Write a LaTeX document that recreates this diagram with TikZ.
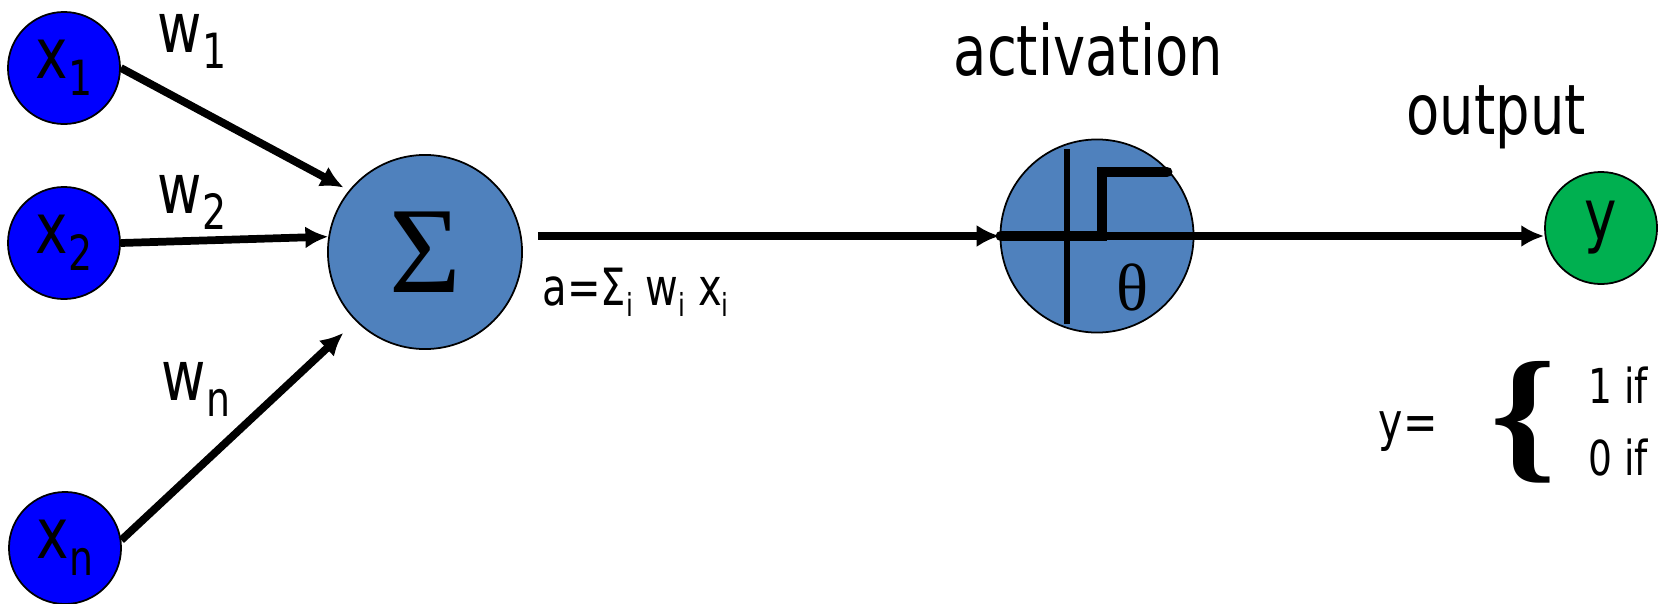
\documentclass[tikz,border=0pt]{standalone}
\usepackage{fontspec}
\usepackage{graphicx}
\setmainfont{DejaVu Sans}[FakeStretch=0.78]
\newfontfamily\seriffont{Liberation Serif}
\usetikzlibrary{arrows.meta,positioning,calc}

\definecolor{inblue}{RGB}{0,0,255}
\definecolor{cellblue}{RGB}{79,129,189}
\definecolor{outgreen}{RGB}{0,176,80}

\newcommand{\lowidx}[1]{\raisebox{-4.7pt}{\fontsize{13.8}{13.8}\selectfont #1}}
\newcommand{\smallidx}[1]{\raisebox{-3.4pt}{\fontsize{9}{9}\selectfont #1}}

\begin{document}
\begin{tikzpicture}[
        x=0.01cm, y=-0.01cm,
        innode/.style={circle, draw, line width=0.5pt, fill=inblue, minimum size=1.12cm, inner sep=0, font=\fontsize{20}{20}\selectfont},
        cell/.style={circle, draw, line width=0.5pt, fill=cellblue, minimum size=1.94cm, inner sep=0},
        outnode/.style={innode, fill=outgreen},
        lbl/.style={inner sep=0, anchor=base west, font=\fontsize{19.8}{20}\selectfont},
        arr/.style={draw, line width=2.2pt, -{Latex[length=6.5pt,width=6.3pt]}},
        axisline/.style={line width=1.7pt},
        stepline/.style={line width=3.1pt, line cap=round}
    ]
        \useasboundingbox (0,0) rectangle (1664,603);

        % Inputs
        \node[innode] (x1) at (64,68) {x\lowidx{1}};
        \node[innode] (x2) at (64,243) {x\lowidx{2}};
        \node[innode] (xn) at (65,548) {x\lowidx{n}};

        % Summation, activation, output
        \node[cell, font=\seriffont\fontsize{35}{35}\selectfont] (sum) at (425,252) {Σ};
        \node[cell, minimum size=1.93cm] (act) at (1097,236) {};
        \node[outnode] (yout) at (1601,228) {y};

        % Weights
        \node[lbl] (w1) at (157,52) {w\lowidx{1}};
        \node[lbl] (w2) at (157,213) {w\lowidx{2}};
        \node[lbl] (wn) at (161,400) {w\lowidx{n}};

        % Arrows
        \draw[arr, shorten >=0.06cm] (x1.east) -- (sum.141);
        \draw[arr] (x2.east) -- (sum.171);
        \draw[arr, shorten >=0.17cm] (xn.8) -- (sum.225);
        \draw[arr, shorten <=0.15cm] (sum.east |- act.west) -- (act.west);
        \draw[arr] (act.center) -- (act.center -| yout.west);

        % Step function inside the activation
        \begin{scope}[shift={(act.center)}]
            \draw[axisline] (-30,-87) -- (-30,88);
            \draw[stepline] (-96,0) -- (5,0) -- (5,-64) -- (70,-64);
            \node[font=\seriffont\fontsize{19}{19}\selectfont, inner sep=0] (theta) at (35,51) {θ};
        \end{scope}

        % Labels
        \node[lbl] (actlbl) at (953,75) {activation};
        \node[lbl] (outlbl) at (1406,134) {output};
        \node[lbl, font=\fontsize{14.6}{15}\selectfont] (sumlbl) at (542,305) {a=Σ\smallidx{i} w\smallidx{i} x\smallidx{i}};

        % Threshold rule
        \node[lbl, font=\fontsize{15}{15}\selectfont] (yeq) at (1378,440) {y=};
        \node[inner sep=0] (brace) at (1524,422) {\resizebox{0.66cm}{1.02cm}{\seriffont\bfseries\{}};
        \node[lbl, font=\fontsize{13.7}{14}\selectfont] (one) at (1588,403) {1 if};
        \node[lbl, font=\fontsize{13.7}{14}\selectfont] (zero) at (1588,475) {0 if};
    \end{tikzpicture}
\end{document}
